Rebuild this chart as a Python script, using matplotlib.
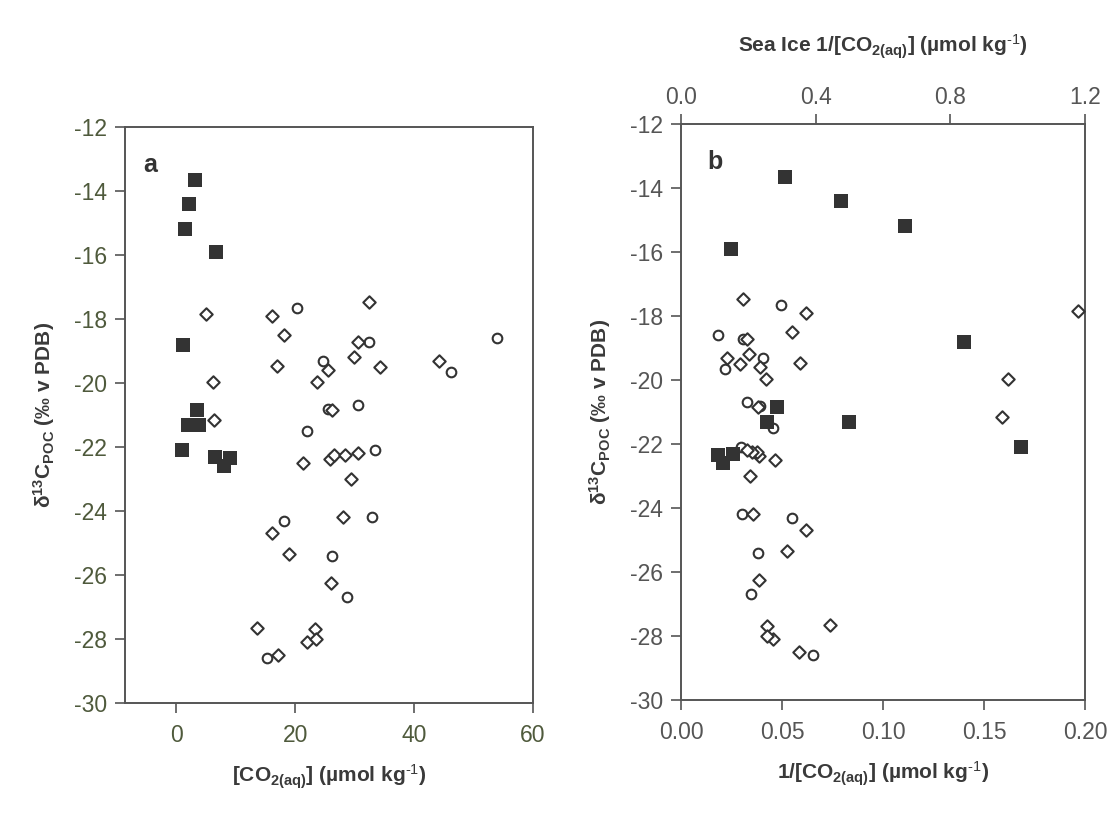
import matplotlib
matplotlib.use("Agg")
import matplotlib.pyplot as plt
import numpy as np

plt.rcParams["font.family"] = ["Liberation Sans", "DejaVu Sans"]
plt.rcParams["mathtext.fontset"] = "custom"
plt.rcParams["mathtext.rm"] = "Liberation Sans"
plt.rcParams["mathtext.it"] = "Liberation Sans:italic"
plt.rcParams["mathtext.bf"] = "Liberation Sans:bold"
plt.rcParams["mathtext.default"] = "bf"
plt.rcParams["axes.unicode_minus"] = False

# Sea ice samples: [CO2(aq)] (umol/kg) and d13C POC
ice_co2 = [3.25, 2.1, 1.5, 6.7, 1.19, 3.5, 2.0, 3.9, 0.99, 6.5, 9.0, 8.0]
ice_d13c = [-13.65, -14.4, -15.2, -15.9, -18.8, -20.85, -21.3, -21.3, -22.1, -22.3, -22.35, -22.6]

# Water column samples, group 1 (circles)
circ_co2 = [20.3, 32.4, 54.0, 24.7, 46.2, 25.5, 30.6, 22.0, 33.4, 18.2, 33.0, 26.2, 28.7, 15.3]
circ_d13c = [-17.66, -18.72, -18.6, -19.3, -19.66, -20.8, -20.7, -21.5, -22.1, -24.3, -24.2, -25.4, -26.7, -28.6]

# Water column samples, group 2 (diamonds)
diam_co2 = [5.09, 16.1, 32.4, 18.2, 30.6, 29.9, 17.0, 25.5, 34.3, 44.2, 23.7, 6.18, 26.2, 6.3,
            21.4, 25.9, 26.6, 28.4, 30.6, 29.4, 28.1, 16.1, 19.0, 26.0, 13.6, 23.4, 22.0, 23.5, 17.1]
diam_d13c = [-17.84, -17.9, -17.47, -18.5, -18.72, -19.2, -19.47, -19.6, -19.5, -19.3, -19.97, -19.97, -20.84, -21.16,
             -22.5, -22.37, -22.25, -22.25, -22.2, -23.0, -24.2, -24.7, -25.35, -26.25, -27.66, -27.7, -28.1, -28.0, -28.5]

y_ticks = [-12, -14, -16, -18, -20, -22, -24, -26, -28, -30]
a_xticks = [0, 20, 40, 60]
b_xticks = [0.00, 0.05, 0.10, 0.15, 0.20]
b_top_ticks = [0.0, 0.4, 0.8, 1.2]

ink = "#333333"
spine_col = "#555555"
tick_fs = 16.5
label_fs = 15

unit = r" (µmol kg$^{\text{-1}}$)"
co2 = r"[CO$_{2(aq)}$]"

fig = plt.figure(figsize=(11.17, 8.21), dpi=100)
ax_a = fig.add_axes([125 / 1117, 118 / 821, 408 / 1117, 576 / 821])
ax_b = fig.add_axes([681 / 1117, 121 / 821, 404 / 1117, 576 / 821])

sq_kw = dict(marker="s", s=100, color=ink, linewidths=0, zorder=4)
circ_kw = dict(marker="o", s=48, facecolors="white", edgecolors=ink, linewidths=1.5, zorder=3)
diam_kw = dict(marker="D", s=40, facecolors="white", edgecolors=ink, linewidths=1.5, zorder=3)

# Panel a: against [CO2(aq)]
ax_a.scatter(circ_co2, circ_d13c, **circ_kw)
ax_a.scatter(diam_co2, diam_d13c, **diam_kw)
ax_a.scatter(ice_co2, ice_d13c, **sq_kw)
ax_a.set_xlim(-8.6, 60)
ax_a.set_xticks(a_xticks)
ax_a.set_xlabel(co2 + unit, fontsize=label_fs, fontweight="bold", color="#3a3a3a", labelpad=11)

# Panel b: against 1/[CO2(aq)]; sea ice on the upper axis
ax_b.scatter(1 / np.array(circ_co2), circ_d13c, **circ_kw)
ax_b.scatter(1 / np.array(diam_co2), diam_d13c, **diam_kw)
ax_b.set_xlim(0, 0.2)
ax_b.set_xticks(b_xticks)
ax_b.set_xticklabels([f"{v:.2f}" for v in b_xticks])
ax_b.set_xlabel("1/" + co2 + unit, fontsize=label_fs, fontweight="bold", color="#3a3a3a", labelpad=11)

ax_top = ax_b.twiny()
ax_top.scatter(1 / np.array(ice_co2), ice_d13c, **sq_kw)
ax_top.set_xlim(0, 1.2)
ax_top.set_xticks(b_top_ticks)
ax_top.set_xticklabels([f"{v:.1f}" for v in b_top_ticks])
ax_top.set_xlabel("Sea Ice 1/" + co2 + unit, fontsize=label_fs, fontweight="bold",
                  color="#3a3a3a", labelpad=24)
ax_top.tick_params(axis="x", direction="out", length=7, width=1.2, labelsize=tick_fs,
                   colors=spine_col, pad=4)
for sp in ax_top.spines.values():
    sp.set_visible(False)

for ax, tcol in ((ax_a, "#4f5a3c"), (ax_b, "#555555")):
    ax.set_ylim(-30, -12)
    ax.set_yticks(y_ticks)
    ax.set_ylabel(r"$\delta^{13}C_{POC}$ (‰ v PDB)", fontsize=label_fs, fontweight="bold",
                  color="#3a3a3a", labelpad=12)
    ax.tick_params(direction="out", length=7, width=1.2, labelsize=tick_fs, color=spine_col,
                   labelcolor=tcol, pad=6)
    ax.tick_params(axis="x", pad=8)
    for sp in ax.spines.values():
        sp.set_color(spine_col)
        sp.set_linewidth(1.4)

ax_a.text(0.045, 0.955, "a", transform=ax_a.transAxes, fontsize=18, fontweight="bold",
          color="#333333", va="top", ha="left")
ax_b.text(0.065, 0.955, "b", transform=ax_b.transAxes, fontsize=18, fontweight="bold",
          color="#333333", va="top", ha="left")

fig.savefig("out.png", dpi=100)
